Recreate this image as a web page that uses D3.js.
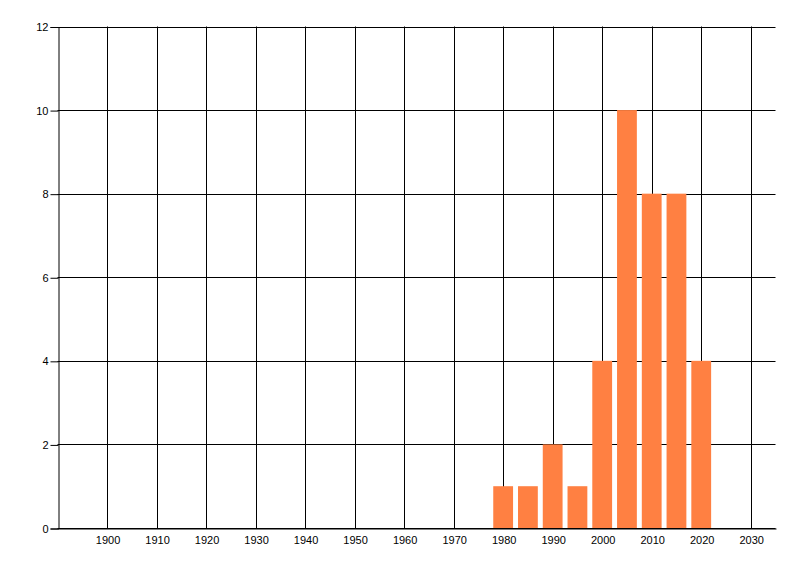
<!DOCTYPE html>
<html>
<head>
<meta charset="utf-8">
<script src="https://cdn.jsdelivr.net/npm/d3@7"></script>
<style>
  body { margin: 0; background: #fff; }
  svg { display: block; font-family: "Liberation Sans", Arial, sans-serif; }
</style>
</head>
<body>
<div id="chart"></div>
<script>
// bar data: year -> count
const years = [1980, 1985, 1990, 1995, 2000, 2005, 2010, 2015, 2020];
const counts = [1, 1, 2, 1, 4, 10, 8, 8, 4];
const xTicks = [1900, 1910, 1920, 1930, 1940, 1950, 1960, 1970, 1980, 1990, 2000, 2010, 2020, 2030];
const yTicks = [0, 2, 4, 6, 8, 10, 12];

const width = 800, height = 576;
const margin = { top: 26.5, right: 24.5, bottom: 48, left: 57.5 };

const svg = d3.select("#chart").append("svg")
    .attr("width", width)
    .attr("height", height);

const x = d3.scaleLinear().domain([1890, 2035]).range([margin.left, width - margin.right]);
const y = d3.scaleLinear().domain([0, 12]).range([height - margin.bottom, margin.top]);

// vertical grid
svg.append("g")
    .selectAll("line")
    .data(xTicks)
    .join("line")
    .attr("x1", d => Math.round(x(d)) + 0.5)
    .attr("x2", d => Math.round(x(d)) + 0.5)
    .attr("y1", y(12))
    .attr("y2", y(0))
    .attr("stroke", "#000");

// horizontal grid
svg.append("g")
    .selectAll("line")
    .data(yTicks)
    .join("line")
    .attr("x1", x.range()[0])
    .attr("x2", x.range()[1])
    .attr("y1", d => Math.round(y(d)) + 0.5)
    .attr("y2", d => Math.round(y(d)) + 0.5)
    .attr("stroke", "#000");

// bars, 4 years wide centred on the year
const barW = x(1982) - x(1978);
svg.append("g")
    .selectAll("rect")
    .data(years)
    .join("rect")
    .attr("x", d => x(d) - barW / 2)
    .attr("width", barW)
    .attr("y", (d, i) => y(counts[i]))
    .attr("height", (d, i) => y(0) - y(counts[i]))
    .attr("fill", "#ff8042");

// y axis
const yAxis = svg.append("g")
    .attr("transform", `translate(${Math.round(x(1890)) + 0.5},0.5)`)
    .call(d3.axisLeft(y).tickValues(yTicks).tickSize(8).tickPadding(2));
yAxis.select(".domain").attr("stroke", "#000");
yAxis.selectAll(".tick text").attr("fill", "#000").attr("font-size", 11)
    .attr("font-family", "Liberation Sans, Arial, sans-serif");

// x axis labels
const xAxis = svg.append("g")
    .attr("transform", `translate(0.5,${Math.round(y(0)) + 0.5})`)
    .call(d3.axisBottom(x).tickValues(xTicks).tickFormat(d3.format("d")).tickSize(0).tickPadding(8));
xAxis.select(".domain").attr("stroke", "#000");
xAxis.selectAll(".tick text").attr("fill", "#000").attr("font-size", 11)
    .attr("font-family", "Liberation Sans, Arial, sans-serif");
</script>
</body>
</html>
